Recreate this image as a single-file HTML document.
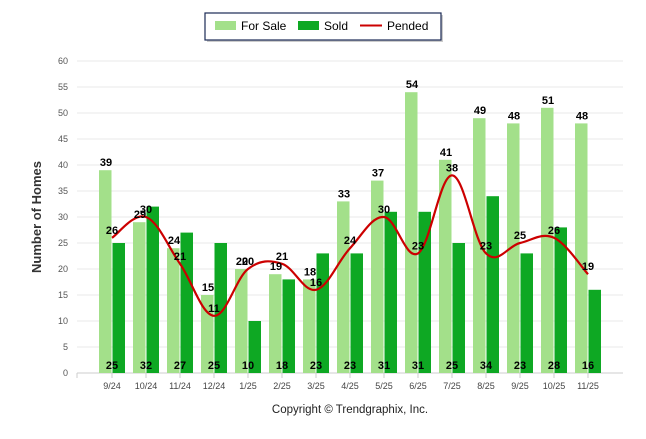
<!DOCTYPE html>
<html><head><meta charset="utf-8"><style>
body{margin:0;background:#fff;font-family:"Liberation Sans",Arial,sans-serif}
svg text{font-family:"Liberation Sans",Arial,sans-serif}
</style></head><body>
<svg id="c" width="646" height="434" xmlns="http://www.w3.org/2000/svg">
<g>
<rect x="207" y="15" width="236" height="27" fill="#999" opacity="0.5"/>
<rect x="205" y="13" width="236" height="27" fill="#fff" stroke="#1a2a55" stroke-width="1.2"/>
<rect x="215" y="21" width="21" height="9" fill="#a3e08a"/>
<text x="241" y="30" font-size="12" fill="#000">For Sale</text>
<rect x="298" y="21" width="21" height="9" fill="#0ea823"/>
<text x="324" y="30" font-size="12" fill="#000">Sold</text>
<line x1="360" y1="25.5" x2="382" y2="25.5" stroke="#cc0000" stroke-width="2"/>
<text x="387" y="30" font-size="12" fill="#000">Pended</text>
</g>
<text transform="translate(41,217) rotate(-90)" text-anchor="middle" font-size="13" font-weight="bold" fill="#333">Number of Homes</text>
<text x="350" y="413" text-anchor="middle" font-size="11.5" fill="#222">Copyright © Trendgraphix, Inc.</text>
<g id="grid"></g><g id="bars"></g><g id="line"></g><g id="labels"></g>
</svg>
<script>
const categories=["9/24","10/24","11/24","12/24","1/25","2/25","3/25","4/25","5/25","6/25","7/25","8/25","9/25","10/25","11/25"];
const forSale=[39,29,24,15,20,19,18,33,37,54,41,49,48,51,48];
const sold=[25,32,27,25,10,18,23,23,31,31,25,34,23,28,16];
const pended=[26,30,21,11,20,21,16,24,30,23,38,23,25,26,19];
const yTicks=[0,5,10,15,20,25,30,35,40,45,50,55,60];
const NS="http://www.w3.org/2000/svg";
const L=77,R=623,T=61,B=373,yMax=60;
const first=112,last=588;
const step=(last-first)/(categories.length-1);
const xs=i=>first+step*i;
const ys=v=>B-(v/yMax)*(B-T);
function mk(tag,at,parent,txt){const e=document.createElementNS(NS,tag);for(const k in at)e.setAttribute(k,at[k]);if(txt!==undefined)e.textContent=txt;document.getElementById(parent).appendChild(e);return e;}
yTicks.forEach(t=>{
 const g=mk('line',{x1:L,x2:R,y1:ys(t),y2:ys(t),stroke:t===0?'#ccc':'#e8e8e8','stroke-width':1},'grid');
 
 
 const tx=mk('text',{x:68,y:ys(t)+3,'text-anchor':'end','font-size':9,fill:'#555'},'grid',t);
 
 
});
const tk0=mk('line',{x1:L,x2:L,y1:B,y2:B+5,stroke:'#ccc'},'grid');


categories.forEach((c,i)=>{
 const tk=mk('line',{x1:xs(i),x2:xs(i),y1:B,y2:B+5,stroke:'#ccc'},'grid');
 
 
});
const bw=12.5;
categories.forEach((c,i)=>{
 const x=xs(i);
 const b1=mk('rect',{x:x-bw-0.5,y:ys(forSale[i]),width:bw,height:B-ys(forSale[i]),fill:'#a3e08a'},'bars');
 
 
 const b2=mk('rect',{x:x+0.5,y:ys(sold[i]),width:bw,height:B-ys(sold[i]),fill:'#0ea823'},'bars');
 
 
 const xl=mk('text',{x:x,y:B+16,'text-anchor':'middle','font-size':9,fill:'#444'},'labels',c);
 
 
 const l1=mk('text',{x:x-6,y:ys(forSale[i])-4,'text-anchor':'middle','font-size':11,'font-weight':'bold',fill:'#000'},'labels',forSale[i]);
 
 
 const l2=mk('text',{x:x,y:B-4,'text-anchor':'middle','font-size':11,'font-weight':'bold',fill:'#000'},'labels',sold[i]);
 
 
 const l3=mk('text',{x:x,y:ys(pended[i])-4,'text-anchor':'middle','font-size':11,'font-weight':'bold',fill:'#000'},'labels',pended[i]);
 
 
});
const pts=pended.map((v,i)=>[xs(i),ys(v)]);
let d='M'+pts[0][0]+','+pts[0][1];
for(let i=0;i<pts.length-1;i++){
 const p0=pts[i-1]||pts[i],p1=pts[i],p2=pts[i+1],p3=pts[i+2]||p2;
 const k=0.18;
 const c1=[p1[0]+(p2[0]-p0[0])*k,p1[1]+(p2[1]-p0[1])*k];
 const c2=[p2[0]-(p3[0]-p1[0])*k,p2[1]-(p3[1]-p1[1])*k];
 d+=` C${c1[0]},${c1[1]} ${c2[0]},${c2[1]} ${p2[0]},${p2[1]}`;
}
const ln=mk('path',{d:d,fill:'none',stroke:'#cc0000','stroke-width':2.2},'line');


</script>
</body></html>
